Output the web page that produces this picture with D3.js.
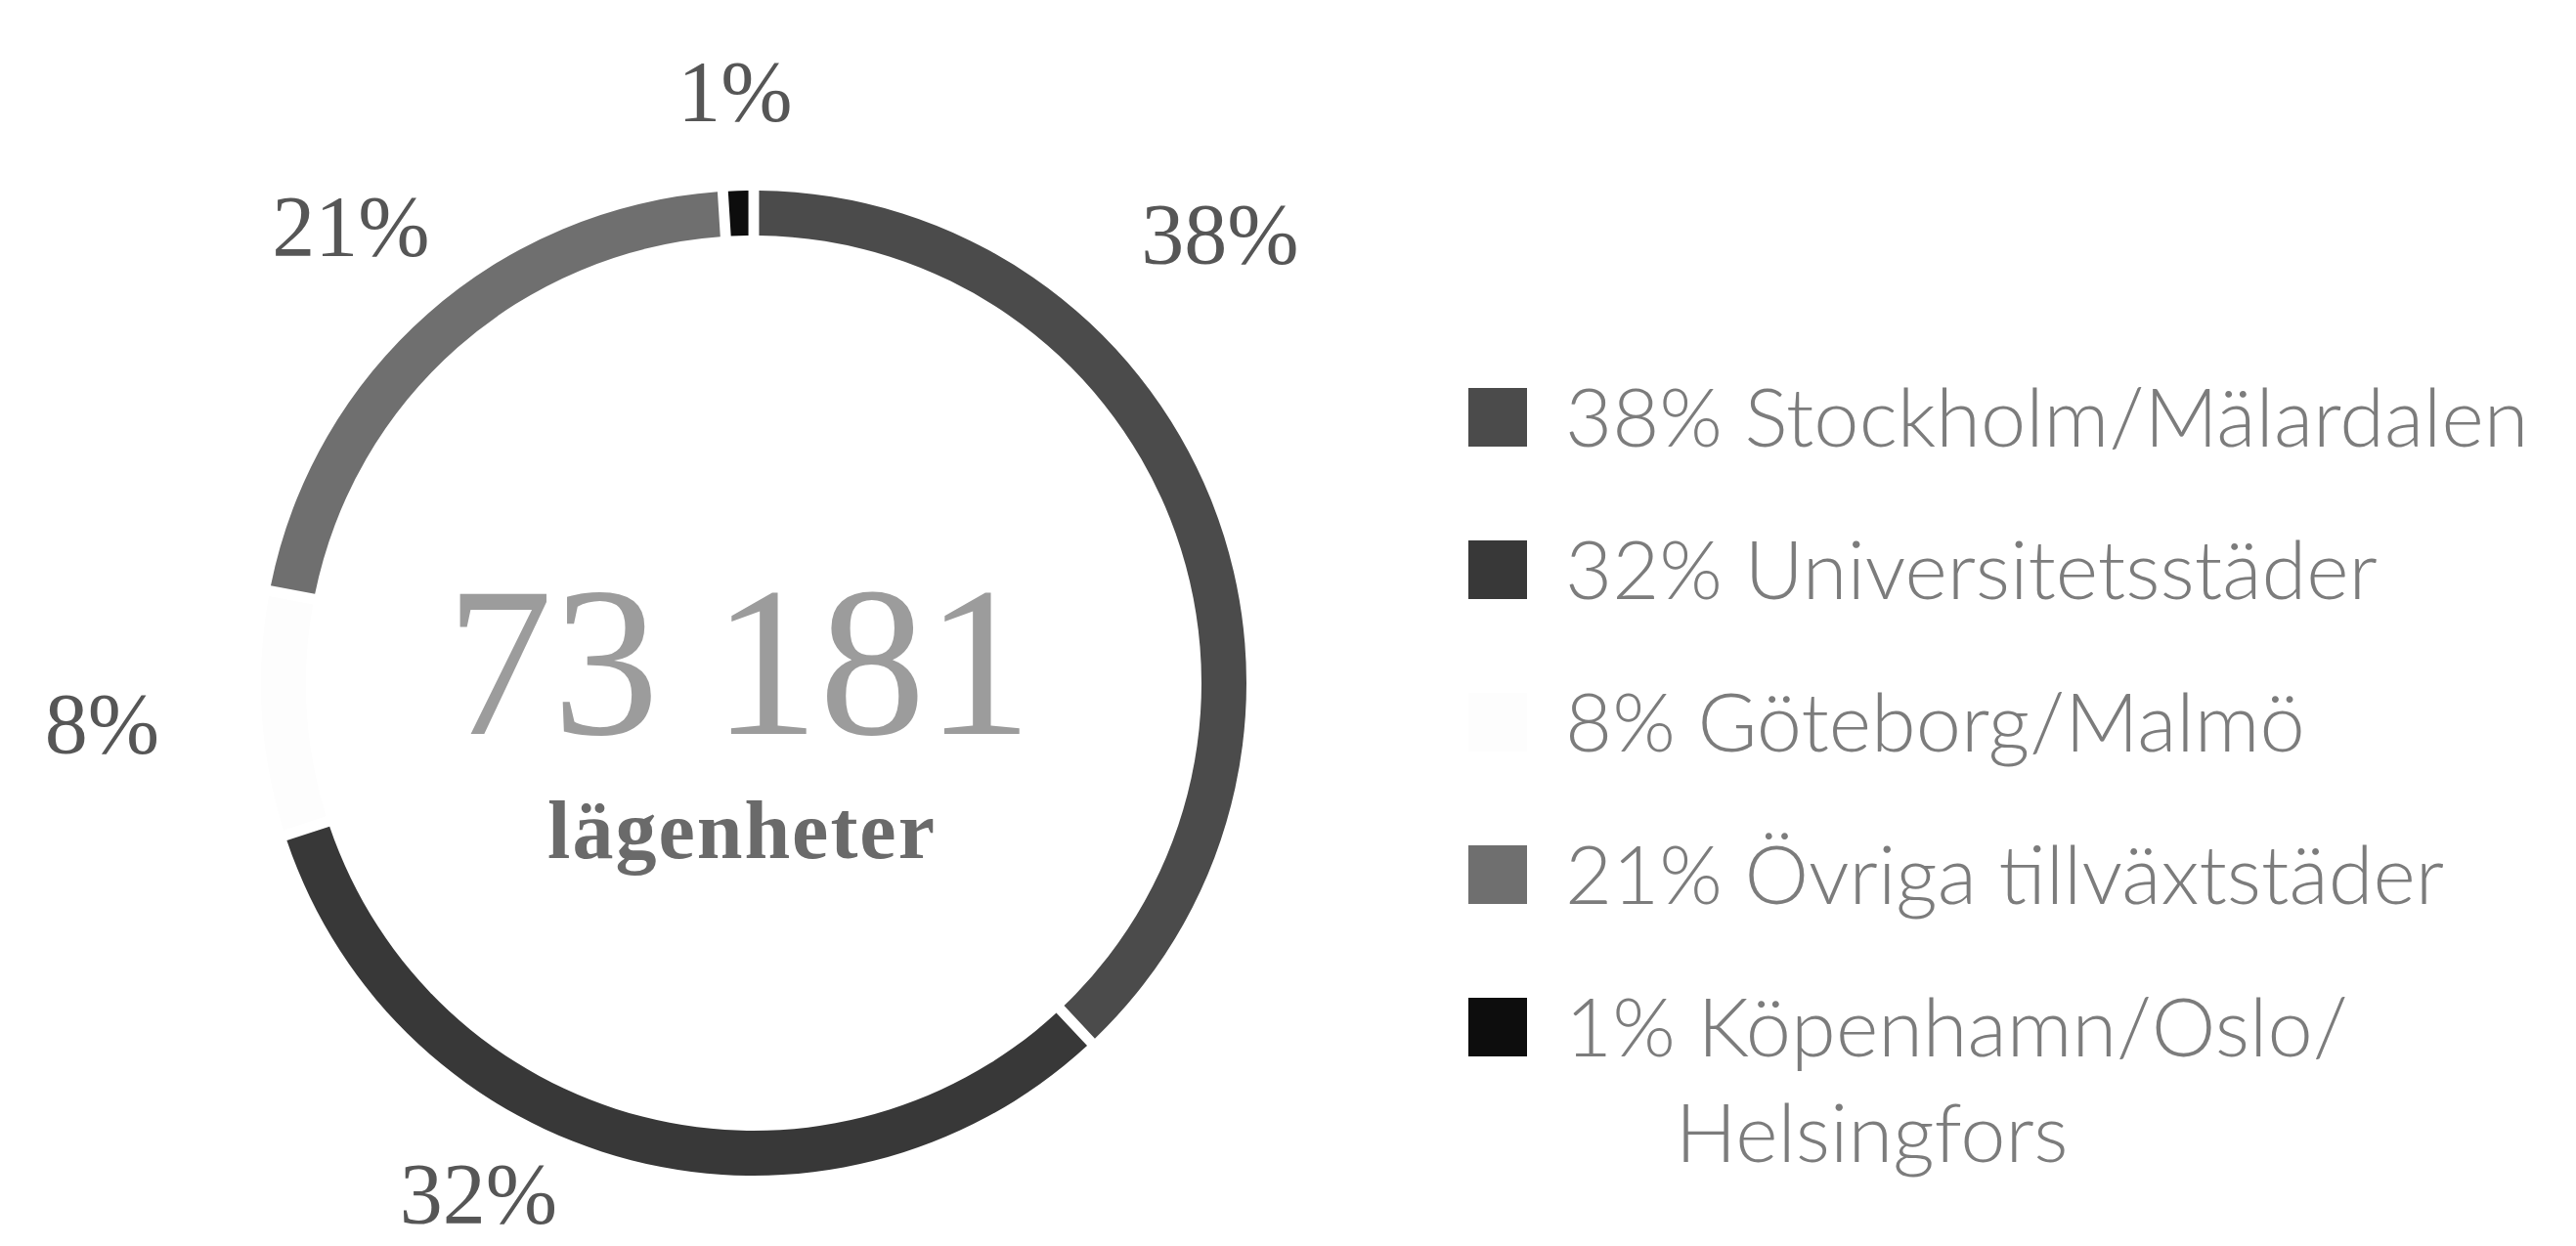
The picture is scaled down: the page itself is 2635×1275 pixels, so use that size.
<!DOCTYPE html>
<html>
<head>
<meta charset="utf-8">
<script src="https://cdn.jsdelivr.net/npm/d3@7"></script>
<style>
  html, body { margin: 0; padding: 0; background: #ffffff; }
  svg { display: block; }
</style>
</head>
<body>
<svg id="chart" width="2635" height="1275"></svg>
<script>
// Housing stock by region, share of all apartments
const categories = [
  "Stockholm/Mälardalen",
  "Universitetsstäder",
  "Göteborg/Malmö",
  "Övriga tillväxtstäder",
  "Köpenhamn/Oslo/Helsingfors"
];
const shares = [38, 32, 8, 21, 1];          // percent
const totalUnits = 73181;
const totalCaption = "lägenheter";

// ---- styling / layout ----
const W = 2635, H = 1275;
const ring = { cx: 771, cy: 699, inner: 458, outer: 504, pad: 0.016 };
const sliceColors = ["#4b4b4b", "#383838", "#fdfdfd", "#6f6f6f", "#0d0d0d"];
const serif = "'Liberation Serif', 'Times New Roman', serif";
const sans = "Lato, 'Open Sans', sans-serif";
// label placement: angular nudge (deg) from the slice middle and radius
const labelLayout = [
  { nudge: -22.3, r: 662 },
  { nudge: 13.9, r: 594 },
  { nudge: 0, r: 668 },
  { nudge: 0, r: 623 },
  { nudge: 0, r: 605 }
];
const legend = { x: 1502, top: 427, step: 156, swatch: 60, textX: 1601, size: 83, maxRight: 2625 };

const data = categories.map((name, i) => ({ name, share: shares[i], color: sliceColors[i], i }));

const svg = d3.select("#chart");
svg.append("rect").attr("width", W).attr("height", H).attr("fill", "#ffffff");

const pie = d3.pie().sort(null).value(d => d.share);
const arcs = pie(data);
const arc = d3.arc().innerRadius(ring.inner).outerRadius(ring.outer).padAngle(ring.pad);

const g = svg.append("g").attr("transform", `translate(${ring.cx},${ring.cy})`);

g.selectAll("path.slice")
  .data(arcs)
  .join("path")
  .attr("class", "slice")
  .attr("d", arc)
  .attr("fill", d => d.data.color);

// percentage labels around the ring
g.selectAll("text.pct")
  .data(arcs)
  .join("text")
  .attr("class", "pct")
  .attr("transform", d => {
    const L = labelLayout[d.data.i];
    const a = (d.startAngle + d.endAngle) / 2 + L.nudge * Math.PI / 180;
    return `translate(${Math.sin(a) * L.r},${-Math.cos(a) * L.r})`;
  })
  .attr("text-anchor", "middle")
  .attr("dy", "0.33em")
  .attr("font-family", serif)
  .attr("font-size", 88)
  .attr("fill", "#565656")
  .text(d => d.data.share + "%");

// total in the centre
const fmt = d3.formatLocale({ decimal: ",", thousands: " ", grouping: [3], currency: ["", " kr"] }).format(",d");
g.append("text")
  .attr("x", -15)
  .attr("y", 52)
  .attr("text-anchor", "middle")
  .attr("font-family", serif)
  .attr("font-size", 218)
  .attr("fill", "#9c9c9c")
  .text(fmt(totalUnits));

g.append("text")
  .attr("x", -12)
  .attr("y", 179)
  .attr("text-anchor", "middle")
  .attr("font-family", serif)
  .attr("font-weight", "bold")
  .attr("font-size", 84)
  .attr("letter-spacing", 2)
  .attr("fill", "#6a6a6a")
  .text(totalCaption);

// legend
const lg = svg.append("g");
const rows = lg.selectAll("g.row")
  .data(data)
  .join("g")
  .attr("class", "row")
  .attr("transform", (d, i) => `translate(0,${legend.top + i * legend.step})`);

rows.append("rect")
  .attr("x", legend.x)
  .attr("y", -legend.swatch / 2)
  .attr("width", legend.swatch)
  .attr("height", legend.swatch)
  .attr("fill", d => d.color);

rows.each(function(d) {
  const row = d3.select(this);
  const t = row.append("text")
    .attr("x", legend.textX)
    .attr("y", 30)
    .attr("font-family", sans)
    .attr("font-weight", 300)
    .attr("font-size", legend.size)
    .attr("fill", "#7c7c7c");
  const pctSpan = t.append("tspan").text(d.share + "% ");
  const nameX = legend.textX + pctSpan.node().getComputedTextLength();
  // wrap the name at "/" when it would run past the right edge
  const parts = d.name.split(/(?<=\/)/);
  let line = "";
  const lines = [];
  const probe = row.append("text")
    .attr("font-family", sans).attr("font-weight", 300).attr("font-size", legend.size)
    .attr("visibility", "hidden");
  parts.forEach(p => {
    const test = line + p;
    probe.text(test);
    if (line && nameX + probe.node().getComputedTextLength() > legend.maxRight) {
      lines.push(line);
      line = p;
    } else {
      line = test;
    }
  });
  lines.push(line);
  probe.remove();
  lines.forEach((ln, k) => {
    const s = t.append("tspan").text(ln);
    if (k > 0) s.attr("x", nameX).attr("dy", 108);
  });
});
</script>
</body>
</html>
